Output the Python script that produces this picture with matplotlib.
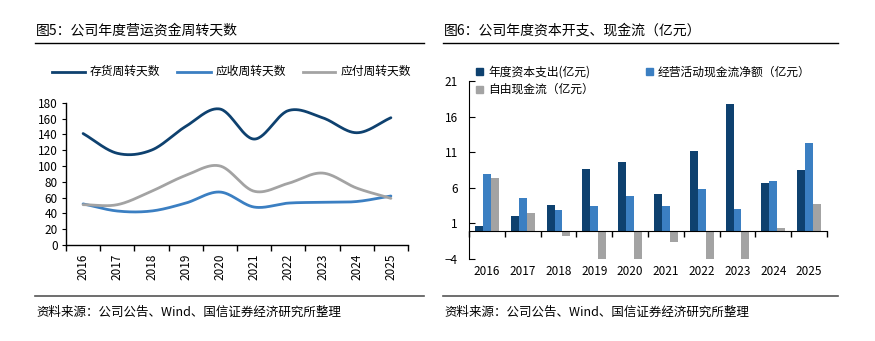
import numpy as np
import matplotlib
matplotlib.use("Agg")
import matplotlib.pyplot as plt
from matplotlib.lines import Line2D
from matplotlib.patches import Rectangle

plt.rcParams['font.family'] = ['Noto Sans CJK SC', 'DejaVu Sans']
plt.rcParams['axes.unicode_minus'] = False

years = ["2016", "2017", "2018", "2019", "2020", "2021", "2022", "2023", "2024", "2025"]

# working capital turnover days
inventory_days = [141, 116, 120, 150, 172, 134, 170, 161, 142, 161]
receivable_days = [52, 43, 43, 53, 67, 48, 53, 54, 55, 62]
payable_days = [51, 51, 68, 88, 100, 68, 78, 91, 72, 59]

# capex and cash flow (亿元)
capex = [0.6, 2.1, 3.6, 8.6, 9.6, 5.1, 11.2, 17.7, 6.7, 8.5]
op_cash = [7.9, 4.6, 2.9, 3.4, 4.8, 3.5, 5.9, 3.0, 7.0, 12.3]
free_cash = [7.4, 2.4, -0.8, -4.0, -4.0, -1.6, -4.0, -4.0, 0.3, 3.7]

NAVY = "#0E416F"
BLUE = "#3B7FC2"
GREY = "#A3A3A3"

W, H = 875, 341


def px_axes(fig, x0, y0, x1, y1):
    # pixel box (top-left origin) -> figure axes
    return fig.add_axes([x0 / W, 1 - y1 / H, (x1 - x0) / W, (y1 - y0) / H])


def smooth(x, y, n=30):
    # catmull-rom curve through the points, like office "smoothed line"
    x = np.asarray(x, float)
    y = np.asarray(y, float)
    px = np.concatenate([[2 * x[0] - x[1]], x, [2 * x[-1] - x[-2]]])
    py = np.concatenate([[2 * y[0] - y[1]], y, [2 * y[-1] - y[-2]]])
    xs, ys = [], []
    t = np.linspace(0, 1, n, endpoint=False)
    for i in range(1, len(px) - 2):
        for arr, out in ((px, xs), (py, ys)):
            p0, p1, p2, p3 = arr[i - 1], arr[i], arr[i + 1], arr[i + 2]
            out.extend(0.5 * (2 * p1 + (-p0 + p2) * t
                              + (2 * p0 - 5 * p1 + 4 * p2 - p3) * t ** 2
                              + (-p0 + 3 * p1 - 3 * p2 + p3) * t ** 3))
    xs.append(x[-1])
    ys.append(y[-1])
    return np.array(xs), np.array(ys)


fig = plt.figure(figsize=(W / 100, H / 100), dpi=100)

# titles and rules
fig.text(36 / W, 1 - 31 / H, "图5：公司年度营运资金周转天数", fontsize=10, va="center", ha="left")
fig.text(444 / W, 1 - 31 / H, "图6：公司年度资本开支、现金流（亿元）", fontsize=10, va="center", ha="left")
for xa, xb in ((35, 424), (443, 838)):
    fig.add_artist(Line2D([xa / W, xb / W], [1 - 42.5 / H] * 2, color="black", lw=1.0))
    fig.add_artist(Line2D([xa / W, xb / W], [1 - 296 / H] * 2, color="#555555", lw=1.2))
    fig.text((xa + 1) / W, 1 - 312 / H, "资料来源：公司公告、Wind、国信证券经济研究所整理",
             fontsize=9, va="center", ha="left")

# ---- left: turnover days ----
ax = px_axes(fig, 66, 102.7, 408, 245)
xpos = np.arange(len(years))
for vals, col in ((inventory_days, NAVY), (receivable_days, BLUE), (payable_days, GREY)):
    sx, sy = smooth(xpos, vals)
    ax.plot(sx, sy, color=col, lw=2.0, solid_capstyle="round")
ax.set_xlim(-0.5, len(years) - 0.5)
ax.set_ylim(0, 180)
ax.set_yticks(range(0, 181, 20))
ax.set_xticks(np.arange(-0.5, len(years), 1.0))
ax.set_xticklabels([])
ax.set_xticks(xpos, minor=True)
ax.set_xticklabels(years, minor=True, rotation=90)
ax.tick_params(axis="x", which="minor", length=0, pad=6, labelsize=8.5)
ax.tick_params(axis="x", which="major", length=4, direction="out", width=1)
ax.tick_params(axis="y", length=3, direction="out", labelsize=8.5, pad=3)
for s in ("top", "right"):
    ax.spines[s].set_visible(False)
for s in ("left", "bottom"):
    ax.spines[s].set_linewidth(1.0)

# left legend
for (lx0, lx1, tx), lab, col in zip(((52, 85, 90), (177, 211, 216), (303, 335, 341)),
                                    ("存货周转天数", "应收周转天数", "应付周转天数"),
                                    (NAVY, BLUE, GREY)):
    fig.add_artist(Line2D([lx0 / W, lx1 / W], [1 - 71.7 / H] * 2, color=col, lw=2.0))
    fig.text(tx / W, 1 - 71.7 / H, lab, fontsize=8.5, va="center", ha="left")

# ---- right: capex / cash flow bars ----
bx = px_axes(fig, 469, 81, 827, 259)
bw = 0.22
bx.bar(xpos - bw, capex, bw, color=NAVY)
bx.bar(xpos, op_cash, bw, color=BLUE)
bx.bar(xpos + bw, free_cash, bw, color=GREY)
bx.set_xlim(-0.5, len(years) - 0.5)
bx.set_ylim(-4, 21)
bx.set_yticks([-4, 1, 6, 11, 16, 21])
bx.set_yticklabels(["\u22124", "1", "6", "11", "16", "21"])
bx.spines["bottom"].set_position(("data", 0))
for s in ("top", "right"):
    bx.spines[s].set_visible(False)
bx.set_xticks(np.arange(-0.5, len(years), 1.0))
bx.set_xticklabels([])
bx.tick_params(axis="x", length=4, direction="out", width=1)
bx.tick_params(axis="y", length=4, direction="in", labelsize=8.5, pad=8)
for i, yr in enumerate(years):
    bx.text(i, -4.9, yr, ha="center", va="top", fontsize=8.5)

# right legend
for (sx0, sy0, tx), lab, col in zip(((476, 71.7, 488), (646, 71.7, 658), (476, 89.3, 488)),
                                    ("年度资本支出(亿元)", "经营活动现金流净额（亿元）", "自由现金流（亿元）"),
                                    (NAVY, BLUE, GREY)):
    fig.add_artist(Rectangle((sx0 / W, 1 - (sy0 + 3.5) / H), 7 / W, 7 / H,
                             transform=fig.transFigure, color=col))
    fig.text(tx / W, 1 - sy0 / H, lab, fontsize=8.5, va="center", ha="left")

fig.savefig("out.png", dpi=100)
